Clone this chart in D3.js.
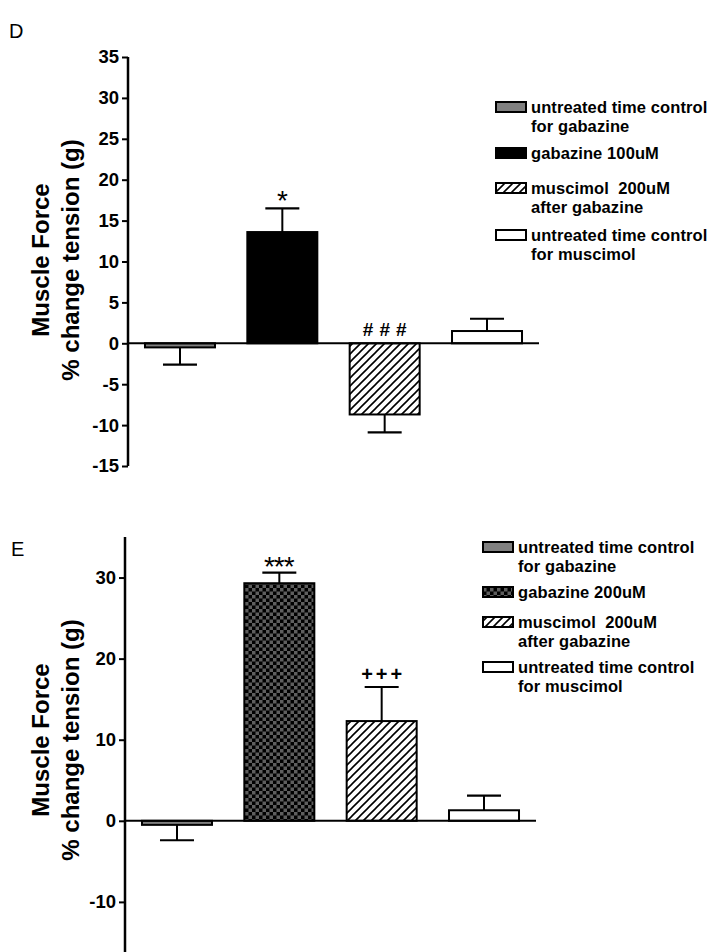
<!DOCTYPE html>
<html><head><meta charset="utf-8">
<script src="https://cdn.jsdelivr.net/npm/d3@7"></script>
<style>body{margin:0;background:#fff}svg{display:block}text{font-family:"Liberation Sans",Arial,sans-serif;white-space:pre}</style>
</head><body>
<script>
// ---- data ----
const categories = ["untreated time control for gabazine","gabazine","muscimol 200uM after gabazine","untreated time control for muscimol"];
const legendD = [["untreated time control","for gabazine"],["gabazine 100uM"],["muscimol  200uM","after gabazine"],["untreated time control","for muscimol"]];
const legendE = [["untreated time control","for gabazine"],["gabazine 200uM"],["muscimol  200uM","after gabazine"],["untreated time control","for muscimol"]];
const meansD = [-0.5, 13.6, -8.7, 1.5];
const errD   = [2.1, 2.9, 2.2, 1.5];
const meansE = [-0.5, 29.3, 12.3, 1.3];
const errE   = [1.9, 1.3, 4.2, 1.8];
const ticksD = [-15,-10,-5,0,5,10,15,20,25,30,35];
const ticksE = [-10,0,10,20,30];
const marksD = ["", "*", "###", ""];
const marksE = ["", "***", "+++", ""];
const fillsD = ["#808080","#000000","url(#hatch)","#ffffff"];
const fillsE = ["#808080","url(#checker)","url(#hatch)","#ffffff"];

const W = 723, H = 952;
const svg = d3.select("body").append("svg").attr("width",W).attr("height",H);
const defs = svg.append("defs");
const hatch = defs.append("pattern").attr("id","hatch").attr("patternUnits","userSpaceOnUse").attr("width",8).attr("height",8);
hatch.append("rect").attr("width",8).attr("height",8).attr("fill","#fff");
hatch.append("path").attr("d","M-2,2 L2,-2 M0,8 L8,0 M6,10 L10,6").attr("stroke","#000").attr("stroke-width",1.6);
const chk = defs.append("pattern").attr("id","checker").attr("patternUnits","userSpaceOnUse").attr("width",7).attr("height",7);
chk.append("rect").attr("width",7).attr("height",7).attr("fill","#000");
chk.append("rect").attr("width",3.5).attr("height",3.5).attr("fill","#5e5e5e");
chk.append("rect").attr("x",3.5).attr("y",3.5).attr("width",3.5).attr("height",3.5).attr("fill","#5e5e5e");

function panel(o){
  const g = svg.append("g");
  const x = d3.scaleBand().domain(categories).range([o.x0, o.x1]).paddingInner(0.316).paddingOuter(0.166);
  const y = d3.scaleLinear().domain(o.domain).range(o.yrange);
  g.append("text").attr("x",o.lx).attr("y",o.ly).attr("font-size",20).text(o.letter);
  const ax = g.append("g").attr("transform",`translate(${o.x0},0)`)
    .call(d3.axisLeft(y).tickValues(o.ticks).tickSize(6).tickPadding(3).tickFormat(d => String(d)));
  ax.select(".domain").attr("stroke-width",2.5).attr("d",`M0,${o.yrange[0]}V${o.yrange[1]}`);
  ax.selectAll(".tick line").attr("stroke-width",2);
  ax.selectAll(".tick text").attr("font-size",18.5).attr("font-weight","bold").attr("font-family","Liberation Sans, Arial, sans-serif");
  const t = g.append("text").attr("transform",`translate(0,${o.titleY}) rotate(-90)`).attr("text-anchor","middle")
    .attr("font-weight","bold").attr("font-size",24);
  t.append("tspan").attr("x",0).attr("y",o.tx1).text("Muscle Force");
  t.append("tspan").attr("x",0).attr("y",o.tx2).text("% change tension (g)");
  const bw = x.bandwidth();
  categories.forEach((c,i)=>{
    const v = o.means[i], e = o.errs[i];
    const xb = x(c);
    g.append("rect").attr("x",xb).attr("y",Math.min(y(v),y(0))).attr("width",bw)
      .attr("height",Math.abs(y(v)-y(0))).attr("fill",o.fills[i]).attr("stroke","#000").attr("stroke-width",2);
    const ve = v>=0 ? v+e : v-e;
    const cx = xb + bw/2;
    g.append("line").attr("x1",cx).attr("x2",cx).attr("y1",y(v)).attr("y2",y(ve)).attr("stroke","#000").attr("stroke-width",2);
    g.append("line").attr("x1",cx-17).attr("x2",cx+17).attr("y1",y(ve)).attr("y2",y(ve)).attr("stroke","#000").attr("stroke-width",2.2);
    const m = o.marks[i];
    if(m){
      let by, fs, ls, fw;
      if(m[0]==="*"){ by = y(ve)+ (m.length>1?3:2); fs = 28; ls = m.length>1?-1:0; fw = "normal"; }
      else if(m[0]==="#"){ by = (v<0? y(0) : y(ve)) - 7; fs = 19; ls = 6; fw="bold"; }
      else { by = y(ve) - 6; fs = 20; ls = 3; fw="bold"; }
      g.append("text").attr("x",cx + ls/2).attr("y",by).attr("text-anchor","middle").attr("font-size",fs)
        .attr("font-weight",fw).attr("letter-spacing",ls).text(m);
    }
  });
  g.append("line").attr("x1",o.x0).attr("x2",o.x1).attr("y1",y(0)).attr("y2",y(0)).attr("stroke","#000").attr("stroke-width",2);
  o.legend.forEach((lines,i)=>{
    const cyL = o.legY[i];
    g.append("rect").attr("x",o.legX).attr("y",cyL-5).attr("width",30).attr("height",10)
      .attr("fill",o.fills[i]).attr("stroke","#000").attr("stroke-width",2);
    const tt = g.append("text").attr("font-size",16.5).attr("font-weight","bold").attr("letter-spacing",0.1);
    lines.forEach((ln,j)=>{
      tt.append("tspan").attr("x",o.legX+35).attr("y",cyL+6+j*19).text(ln);
    });
  });
}

panel({letter:"D", lx:9, ly:38, x0:128, x1:539, domain:[-15,35], yrange:[466,57], ticks:ticksD,
  means:meansD, errs:errD, marks:marksD, fills:fillsD, legend:legendD, legX:496, legY:[107,153,188,235],
  titleY:260, tx1:49, tx2:79});
panel({letter:"E", lx:11, ly:556, x0:125, x1:536, domain:[-16.5,35], yrange:[954.6,537], ticks:ticksE,
  means:meansE, errs:errE, marks:marksE, fills:fillsE, legend:legendE, legX:483, legY:[547,592,622,667],
  titleY:740, tx1:49, tx2:79});
</script>
</body></html>
